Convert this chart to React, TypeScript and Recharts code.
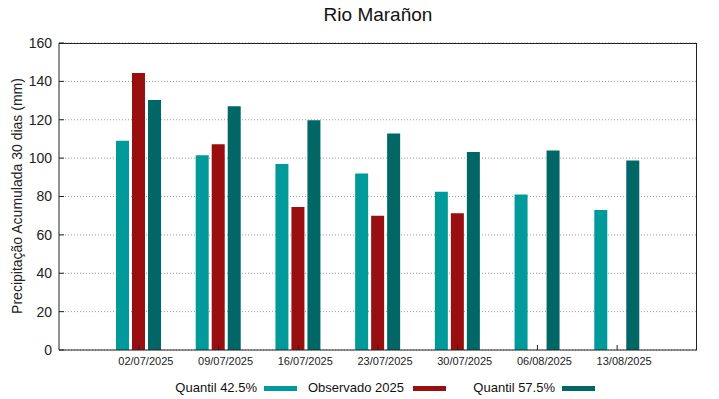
import React from 'react';
import { BarChart, Bar, XAxis, YAxis, CartesianGrid } from 'recharts';

const categories = ['02/07/2025', '09/07/2025', '16/07/2025', '23/07/2025', '30/07/2025', '06/08/2025', '13/08/2025'];
const quantil425 = [109, 101.5, 97, 92, 82.5, 81, 73];
const observado2025: (number | null)[] = [144.3, 107.2, 74.5, 70, 71.3, null, null];
const quantil575 = [130.3, 127, 119.8, 112.8, 103.2, 104, 98.8];
const yTicks = [0, 20, 40, 60, 80, 100, 120, 140, 160];

const seriesNames = ['Quantil 42.5%', 'Observado 2025', 'Quantil 57.5%'];
const colors = ['#009a9a', '#990e0e', '#006666'];

const data = categories.map((c, i) => ({
  date: c,
  q425: quantil425[i],
  obs: observado2025[i],
  q575: quantil575[i],
}));

const FONT = '"Liberation Sans", Arial, sans-serif';

const XTick = (props: any) => {
  const { x, y, payload } = props;
  return (
    <text x={x + 7} y={y} dy="0.71em" textAnchor="middle" fontSize={11} fill="#222" fontFamily={FONT}>
      {payload.value}
    </text>
  );
};

const YLabel = () => (
  <text
    x={17}
    y={196}
    transform="rotate(-90 17 196)"
    textAnchor="middle"
    dominantBaseline="central"
    fontSize={14}
    fill="#222"
    fontFamily={FONT}
  >
    Precipitação Acumulada 30 dias (mm)
  </text>
);

export default function App() {
  const legendPos = [
    { textRight: 257, swLeft: 264 },
    { textRight: 404, swLeft: 413 },
    { textRight: 555, swLeft: 562 },
  ];
  return (
    <div style={{ position: 'absolute', left: 0, top: 0, width: 719, height: 399, background: '#fff', fontFamily: FONT }}>
      <div style={{ position: 'absolute', left: 0, top: 3, width: 756, textAlign: 'center', fontSize: 19, color: '#111', lineHeight: '24px' }}>
        Rio Marañon
      </div>
      <BarChart
        width={719}
        height={399}
        data={data}
        margin={{ top: 43, right: 22, left: 0, bottom: 19 }}
        barSize={13}
        barGap={3}
      >
        <CartesianGrid vertical={false} stroke="#9a9a9a" strokeDasharray="1 2" />
        <XAxis
          dataKey="date"
          height={30}
          padding={{ left: 40, right: 40 }}
          axisLine={{ stroke: '#222' }}
          tickLine={{ stroke: '#222' }}
          tickSize={-5}
          tickMargin={12}
          tick={<XTick />}
          interval={0}
        />
        <YAxis
          width={59}
          domain={[0, 160]}
          ticks={yTicks}
          interval={0}
          axisLine={{ stroke: '#222' }}
          tickLine={{ stroke: '#222' }}
          tickSize={-5}
          tickMargin={12}
          tick={{ fontSize: 14, fill: '#222', fontFamily: FONT }}
          label={<YLabel />}
        />
        <Bar dataKey="q425" name={seriesNames[0]} fill={colors[0]} isAnimationActive={false} />
        <Bar dataKey="obs" name={seriesNames[1]} fill={colors[1]} isAnimationActive={false} />
        <Bar dataKey="q575" name={seriesNames[2]} fill={colors[2]} isAnimationActive={false} />
      </BarChart>
      <div
        style={{
          position: 'absolute',
          left: 59,
          top: 43,
          width: 638,
          height: 307,
          borderTop: '1px solid #222',
          borderRight: '1px solid #222',
          boxSizing: 'border-box',
          pointerEvents: 'none',
        }}
      />
      {seriesNames.map((n, i) => (
        <React.Fragment key={n}>
          <div
            style={{
              position: 'absolute',
              right: 719 - legendPos[i].textRight,
              top: 380,
              fontSize: 13,
              lineHeight: '16px',
              color: '#111',
              whiteSpace: 'nowrap',
            }}
          >
            {n}
          </div>
          <div
            style={{
              position: 'absolute',
              left: legendPos[i].swLeft,
              top: 386,
              width: 33,
              height: 5,
              background: colors[i],
            }}
          />
        </React.Fragment>
      ))}
    </div>
  );
}
